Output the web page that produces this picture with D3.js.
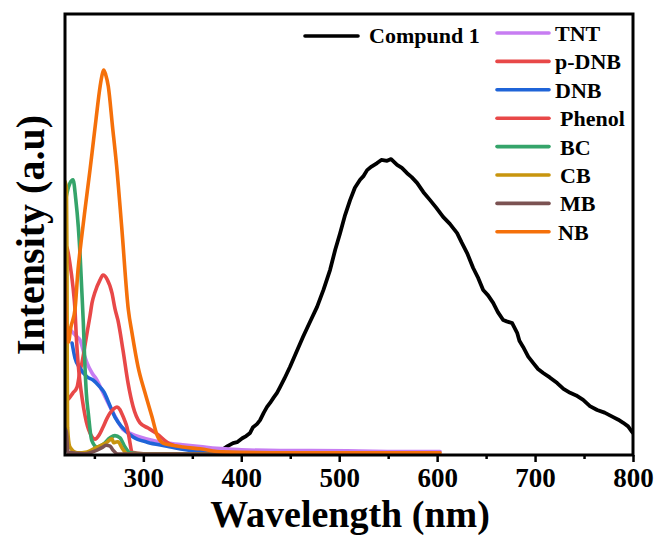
<!DOCTYPE html>
<html>
<head>
<meta charset="utf-8">
<script src="https://cdn.jsdelivr.net/npm/d3@7/dist/d3.min.js"></script>
<style>
  html, body { margin: 0; padding: 0; background: #fff; }
  svg { display: block; }
  text { font-family: "Liberation Serif", "Times New Roman", serif; font-weight: bold; fill: #000; }
</style>
</head>
<body>
<svg id="chart" width="659" height="535"></svg>
<script>
// ---- data (wavelength nm, intensity a.u.) ----
const compound1 = [[380,1.1],[386,2.0],[391.6,2.7],[395.7,2.9],[401,3.8],[405,4.3],[409,5.0],[412,6.3],[416,7.0],[419.2,7.9],[423,9.6],[426.3,10.9],[429.4,11.8],[433,13.0],[436.5,14.1],[439.6,15.4],[444,17.3],[449.8,20.0],[456,23.2],[463.1,26.8],[470,30.1],[477.4,33.6],[484,37.5],[490.7,42.0],[496,46.6],[500.9,50.3],[506,54.4],[511.1,57.8],[516,60.6],[521.3,62.4],[525,63.3],[528.5,64.6],[533,65.4],[538.7,66.2],[543,66.9],[548.9,66.7],[553,67.1],[559.1,65.8],[564,65.1],[569.3,63.9],[574,63.0],[579.5,61.7],[586,59.6],[592.8,57.8],[599,56.1],[606.1,54.0],[613,52.4],[620.4,50.3],[625,48.2],[630.6,45.8],[636.8,42.4],[642,40.1],[647,37.4],[652,36.2],[657.2,34.5],[662,32.4],[667.4,30.6],[671,30.3],[676.6,29.9],[681.7,27.7],[684,25.9],[687.8,24.5],[693,22.3],[698,20.9],[703,19.5],[708.3,18.6],[715,17.6],[722.6,16.3],[729,15.0],[735.8,14.1],[742,13.5],[749.1,12.5],[756,11.1],[763.4,10.2],[771,9.6],[779.8,8.6],[785,8.0],[790,7.3],[795,6.5],[799.2,5.2],[800,5.0]];
const tnt = [[223,29],[227,28],[232.3,26.8],[235.3,26.1],[240.4,22.2],[242.5,20.9],[247.6,18.6],[252.7,17],[258,14.5],[266,10.9],[272,8.4],[279.2,5.8],[288,4.8],[296.6,4.1],[310,3.3],[324,2.7],[340,2.3],[358,1.9],[375,1.5],[400,1.2],[440,1.0],[470,1.0],[520,0.9],[560,0.8],[603,0.8]];
const pDNB = [[220,12.5],[222,12.5],[228.2,14.1],[232.3,15.4],[235.3,19.0],[237.4,21],[242.5,27.7],[245.5,31.5],[247.6,34.5],[250.6,36.9],[255.8,39.7],[258.8,40.8],[262.9,39.9],[268,36.7],[271,33.2],[274.1,30.5],[279.2,23.8],[284.4,16.3],[289.5,11.0],[296.6,7.3],[304.8,6.1],[314,4.8],[324.2,2.9],[340,1.5],[358,0.8],[380,0.5],[600,0.4]];
const dnb = [[227.2,25.4],[230.2,22],[235.3,19.7],[242.5,17.7],[248.6,17],[255.8,15.4],[260,14.2],[264,12.2],[271,8.6],[278.2,6.3],[289.5,4.1],[303.8,2.9],[324.2,2.0],[340,1.3],[358,0.8],[380,0.5],[600,0.4]];
const phenol = [[220,47.6],[222,47],[225,43.5],[228.2,38],[230.2,33],[231.5,27],[233.3,21],[235.3,16.5],[237.4,13],[240.4,9],[243,6.5],[245.5,5],[250.6,3.6],[255,4.6],[258.8,6.3],[262.9,8.3],[266,9.5],[270,10.5],[273.1,10.9],[276,10.3],[278.2,9.3],[281,7.8],[283.3,6.3],[285,4.5],[286.4,2.7],[288.4,0.6],[300,0.3],[600,0.3]];
const bc = [[220,57],[222,59.4],[225,61.6],[228.2,62.4],[231,58],[233.6,51.7],[235.5,45],[237,38],[238.7,30],[240.4,20],[241.8,14],[243.8,9.5],[247.2,3.4],[252.7,1.8],[258.8,2.4],[266,3.9],[271,4.4],[276.2,3.9],[281.3,1.8],[286.4,0.5],[300,0.3],[600,0.3]];
const cb = [[220,62],[221.5,60.5],[222,45],[222.3,20],[222.6,6.3],[225,1.8],[232.3,0.5],[242.5,0.7],[252.7,1.8],[262.9,2.9],[268,3.7],[269.5,2.8],[271.5,2.9],[274.1,3.0],[278.2,1.6],[283.3,0.3],[300,0.2],[600,0.2]];
const mb = [[220,6],[221.5,5],[223,0.6],[240,0.3],[252.7,1.1],[258,1.7],[262,2.2],[266,2.0],[269,1.1],[274,0.2],[300,0.2],[600,0.2]];
const nb = [[220,40],[221,32],[223.5,25.6],[226,29],[230.2,33],[233.3,42],[236.8,49],[240.4,55.6],[245.5,64.6],[247.6,68.5],[251.6,76],[255.8,83.5],[258,86.3],[259.5,87.3],[261.5,86.3],[264.2,83.6],[268.5,74.5],[272.6,65.8],[277.9,51.7],[284.7,32.9],[288.4,27.7],[294.6,20],[301.7,14.1],[308.9,8.6],[314,4.5],[320,2.7],[327,2.3],[340.5,1.8],[358,1.4],[381,0.7],[450,0.5],[603,0.5]];

const seriesNames = ["Compund 1","TNT","p-DNB","DNB","Phenol","BC","CB","MB","NB"];
const seriesColors = ["#000000","#c77df2","#e84848","#1f64d8","#e84848","#35a46a","#c8950e","#7b5252","#f5700a"];
const seriesData = [compound1, tnt, pDNB, dnb, phenol, bc, cb, mb, nb];
const xMajorTicks = [300, 400, 500, 600, 700, 800];
const xMinorTicks = [250, 350, 450, 550, 650, 750];
const xDomain = [220, 800];
const yDomain = [0, 100];
const xTitle = "Wavelength (nm)";
const yTitle = "Intensity (a.u)";

// ---- layout ----
const svg = d3.select("#chart");
const L = 65, R = 633, T = 14, B = 455;
const x = d3.scaleLinear().domain(xDomain).range([L, R]);
const y = d3.scaleLinear().domain(yDomain).range([B, T]);

svg.append("defs").append("clipPath").attr("id", "clip")
  .append("rect").attr("x", L).attr("y", T).attr("width", R - L).attr("height", B - T);

const line = d3.line().x(d => x(d[0])).y(d => y(d[1]));
const smooth = d3.line().x(d => x(d[0])).y(d => y(d[1])).curve(d3.curveMonotoneX);

const g = svg.append("g").attr("clip-path", "url(#clip)");
seriesData.forEach((data, i) => {
  g.append("path")
    .datum(data)
    .attr("fill", "none")
    .attr("stroke", seriesColors[i])
    .attr("stroke-width", i === 0 ? 3.8 : 3.6)
    .attr("stroke-linejoin", "round")
    .attr("stroke-linecap", "round")
    .attr("d", i === 0 ? line : smooth);
});

// frame
svg.append("rect").attr("x", L).attr("y", T).attr("width", R - L).attr("height", B - T)
  .attr("fill", "none").attr("stroke", "#000").attr("stroke-width", 3);

// x axis ticks
const axMajor = d3.axisBottom(x).tickValues(xMajorTicks).tickSize(7).tickSizeOuter(0).tickFormat(d3.format("d"));
const gx = svg.append("g").attr("transform", `translate(0,${B})`).call(axMajor);
gx.select(".domain").remove();
gx.selectAll(".tick line").attr("stroke", "#000").attr("stroke-width", 2.5);
gx.selectAll(".tick text").attr("font-size", 27).attr("font-family", "Liberation Serif, serif")
  .attr("font-weight", "bold").attr("fill", "#000").attr("y", 31.5).attr("dy", "0");

const axMinor = d3.axisBottom(x).tickValues(xMinorTicks).tickSize(4).tickSizeOuter(0).tickFormat("");
const gxm = svg.append("g").attr("transform", `translate(0,${B})`).call(axMinor);
gxm.select(".domain").remove();
gxm.selectAll(".tick line").attr("stroke", "#000").attr("stroke-width", 2.5);

// axis titles
svg.append("text").attr("x", 350).attr("y", 526.5).attr("text-anchor", "middle")
  .attr("font-size", 38).text(xTitle);
svg.append("text").attr("transform", "translate(44,235) rotate(-90)").attr("text-anchor", "middle")
  .attr("font-size", 40).text(yTitle);

// legend
const lg = svg.append("g");
lg.append("line").attr("x1", 305).attr("x2", 358).attr("y1", 36).attr("y2", 36)
  .attr("stroke", seriesColors[0]).attr("stroke-width", 3.6).attr("stroke-linecap", "round");
lg.append("text").attr("x", 369).attr("y", 43).attr("font-size", 22).text(seriesNames[0]);
const textX = [555, 555, 555, 560, 560, 560, 560, 558];
for (let i = 1; i < seriesNames.length; i++) {
  const yy = 33 + (i - 1) * 28.4;
  lg.append("line").attr("x1", 497).attr("x2", 549).attr("y1", yy).attr("y2", yy)
    .attr("stroke", seriesColors[i]).attr("stroke-width", 3.6).attr("stroke-linecap", "round");
  lg.append("text").attr("x", textX[i - 1]).attr("y", yy + 8).attr("font-size", 22).text(seriesNames[i]);
}
</script>
</body>
</html>
